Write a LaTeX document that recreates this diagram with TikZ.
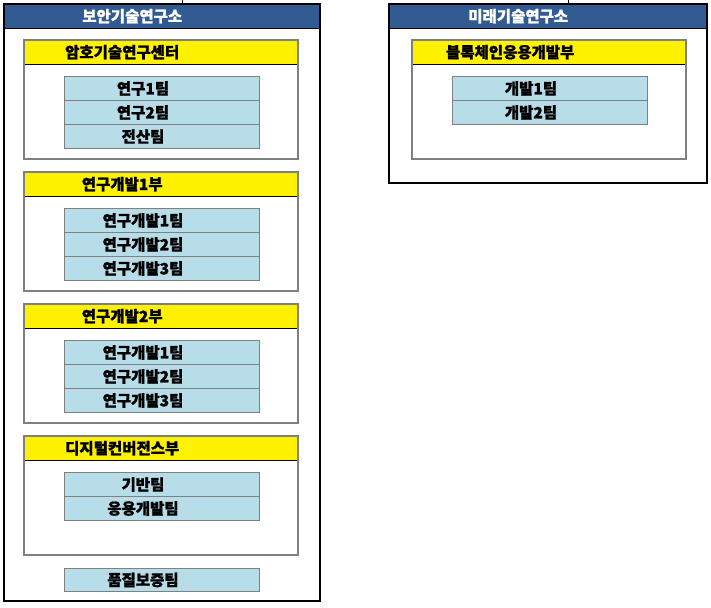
\documentclass[tikz,border=0pt]{standalone}
\usepackage{fontspec}
\setmainfont{Noto Sans CJK KR}[BoldFeatures={FakeBold=1.2}]
\usetikzlibrary{positioning}

\definecolor{hdrblue}{RGB}{50,91,145}
\definecolor{teamblue}{RGB}{183,221,232}
\definecolor{framegray}{RGB}{128,128,128}

\tikzset{
	lab/.style={font=\bfseries\fontsize{15.5}{18}\selectfont, inner sep=0pt},
	box/.style={anchor=north west, inner sep=0pt, fill=white},
	bar/.style={anchor=north west, inner sep=0pt, minimum height=24pt},
	team/.style={anchor=north west, inner sep=0pt, draw=framegray, line width=1pt,
		fill=teamblue, minimum width=195pt, minimum height=24pt}
}

\begin{document}
\begin{tikzpicture}[x=1pt,y=-1pt]

	\useasboundingbox (0,0) rectangle (711,607);

	% institutes
	\node[box, minimum width=316pt, minimum height=597pt] (sec1) at (4,4) {};
	\node[box, minimum width=318pt, minimum height=179pt] (sec2) at (389,4) {};
	\node[bar, fill=hdrblue, minimum width=316pt] (hd1) at (sec1.north west) {};
	\node[bar, fill=hdrblue, minimum width=318pt] (hd2) at (sec2.north west) {};
	\draw (hd1.south west) -- (hd1.south east);
	\draw (hd2.south west) -- (hd2.south east);
	\node[lab, text=white] at ([xshift=-30pt]hd1.center) {보안기술연구소};
	\node[lab, text=white] at ([xshift=-30pt]hd2.center) {미래기술연구소};
	\draw[line width=2pt] (sec1.north west) rectangle (sec1.south east);
	\draw[line width=2pt] (sec2.north west) rectangle (sec2.south east);

	\coordinate (up1) at (182,0);
	\coordinate (up2) at (568,0);
	\draw (up1) -- (up1 |- sec1.north);
	\draw (up2) -- (up2 |- sec2.north);

	% divisions
	\foreach \n/\x/\y/\t in {1/24/40/암호기술연구센터, 2/24/172/연구개발1부,
		3/24/304/연구개발2부, 4/24/436/디지털컨버전스부, 5/412/40/블록체인응용개발부}{
		\node[box, minimum width=274pt, minimum height=119pt] (div\n) at (\x,\y) {};
		\node[bar, fill=yellow, minimum width=274pt] (yb\n) at (div\n.north west) {};
		\draw (yb\n.south west) -- (yb\n.south east);
		\node[lab] at ([xshift=-39pt]yb\n.center) {\t};
		\draw[framegray, line width=2pt] (div\n.north west) rectangle (div\n.south east);
	}

	% teams
	\foreach \t [count=\i] in {연구1팀, 연구2팀, 전산팀}
		\node[team, label={[lab, xshift=-19pt]center:\t}] (ta\i) at (64,{52+24*\i}) {};
	\foreach \t [count=\i] in {연구개발1팀, 연구개발2팀, 연구개발3팀}
		\node[team, label={[lab, xshift=-19pt]center:\t}] (tb\i) at (64,{184+24*\i}) {};
	\foreach \t [count=\i] in {연구개발1팀, 연구개발2팀, 연구개발3팀}
		\node[team, label={[lab, xshift=-19pt]center:\t}] (tc\i) at (64,{316+24*\i}) {};
	\foreach \t [count=\i] in {기반팀, 응용개발팀}
		\node[team, label={[lab, xshift=-19pt]center:\t}] (td\i) at (64,{448+24*\i}) {};
	\foreach \t [count=\i] in {개발1팀, 개발2팀}
		\node[team, label={[lab, xshift=-19pt]center:\t}] (te\i) at (452,{52+24*\i}) {};
	\node[team, minimum height=23pt, label={[lab, xshift=-19pt]center:품질보증팀}] (tq) at (64,568) {};

\end{tikzpicture}
\end{document}
